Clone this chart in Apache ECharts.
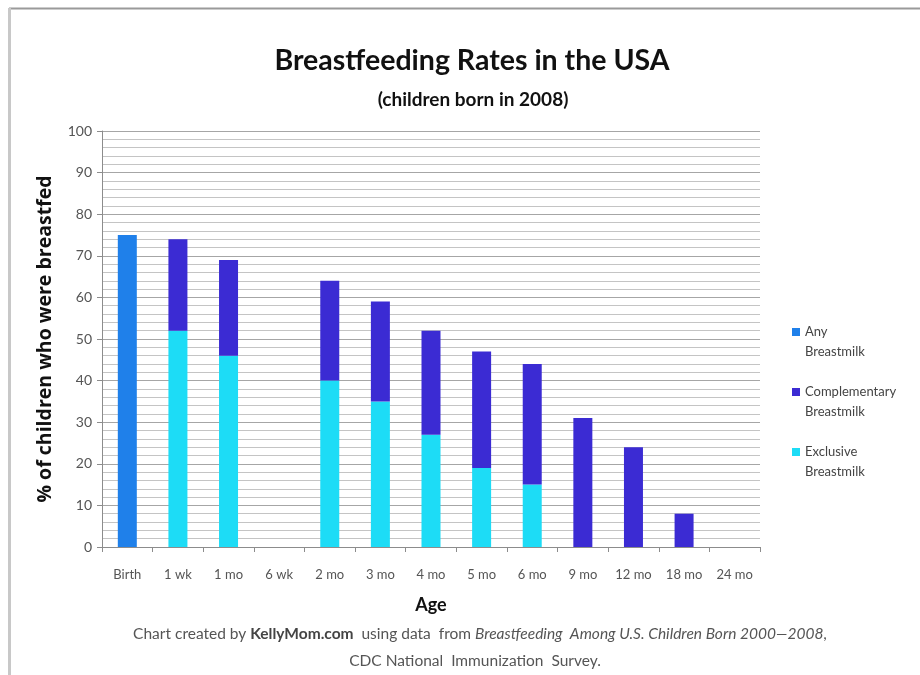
<!DOCTYPE html>
<html>
<head>
<meta charset="utf-8">
<title>Breastfeeding Rates in the USA</title>
<script src="https://cdn.jsdelivr.net/npm/echarts@6/dist/echarts.min.js"></script>
<style>
  html, body { margin: 0; padding: 0; background: #ffffff; }
  #chart { width: 920px; height: 675px; }
</style>
</head>
<body>
<div id="chart"></div>
<script>
// Age groups along the x axis
const ages = ['Birth', '1 wk', '1 mo', '6 wk', '2 mo', '3 mo', '4 mo', '5 mo', '6 mo', '9 mo', '12 mo', '18 mo', '24 mo'];

// Percent of children receiving any breastmilk (only reported at birth as a single bar)
const anyBreastmilk = [75, null, null, null, null, null, null, null, null, null, null, null, null];

// Percent receiving any breastmilk at each later age (top of the stacked bar)
const totalBreastfed = [null, 74, 69, null, 64, 59, 52, 47, 44, 31, 24, 8, null];

// Percent exclusively breastfed (lower part of the stacked bar)
const exclusiveBreastmilk = [null, 52, 46, null, 40, 35, 27, 19, 15, null, null, null, null];

// Complementary part = total minus exclusive
const complementaryBreastmilk = totalBreastfed.map((t, i) =>
  t == null ? null : t - (exclusiveBreastmilk[i] || 0));

const seriesNames = ['Any\nBreastmilk', 'Complementary\nBreastmilk', 'Exclusive\nBreastmilk'];
const colors = { any: '#1f80ea', comp: '#3b2bd3', excl: '#1ddcf6' };

const chart = echarts.init(document.getElementById('chart'), null, { renderer: 'canvas' });

const baseFont = 'Lato, "Open Sans", sans-serif';

chart.setOption({
  animation: false,
  backgroundColor: '#ffffff',
  textStyle: { fontFamily: baseFont },
  title: [
    {
      text: 'Breastfeeding Rates in the USA',
      left: 467, top: 41, textAlign: 'center',
      textStyle: { fontSize: 28.5, fontWeight: 'bold', color: '#111', fontFamily: baseFont }
    },
    {
      text: '(children born in 2008)',
      left: 468, top: 85, textAlign: 'center',
      textStyle: { fontSize: 19, fontWeight: 'bold', color: '#111', fontFamily: baseFont }
    },
    {
      text: '{n|Chart created by }{b|KellyMom.com}{n|  using data  from }{i|Breastfeeding  Among U.S. Children Born 2000\u20142008}{n|,}',
      left: 475, top: 621, textAlign: 'center',
      textStyle: {
        fontSize: 15.5, color: '#555', fontWeight: 'normal',
        rich: {
          n: { fontSize: 15.5, color: '#555', fontWeight: 'normal', fontFamily: baseFont },
          b: { fontSize: 15.5, color: '#444', fontWeight: 'bold', fontFamily: baseFont },
          i: { fontSize: 15.5, color: '#555', fontWeight: 'normal', fontStyle: 'italic', fontFamily: baseFont }
        }
      }
    },
    {
      text: 'CDC National  Immunization  Survey.',
      left: 470, top: 648, textAlign: 'center',
      textStyle: { fontSize: 15.5, color: '#555', fontWeight: 'normal', fontFamily: baseFont }
    }
  ],
  legend: {
    orient: 'vertical',
    left: 787, top: 297,
    itemWidth: 8, itemHeight: 8,
    itemGap: 0,
    icon: 'rect',
    data: seriesNames,
    // a blank first line keeps the swatch level with the first word
    formatter: name => '\n' + name,
    textStyle: { fontSize: 13, color: '#444', lineHeight: 20 }
  },
  grid: { left: 102, right: 160, top: 131, bottom: 128, containLabel: false },
  xAxis: {
    type: 'category',
    data: ages,
    name: 'Age',
    nameLocation: 'middle',
    nameGap: 49,
    nameTextStyle: { fontSize: 18, fontWeight: 'bold', color: '#111' },
    axisLine: { lineStyle: { color: '#8c8c8c', width: 1 } },
    axisTick: { show: true, alignWithLabel: false, length: 5, lineStyle: { color: '#8c8c8c' } },
    axisLabel: { fontSize: 13, color: '#555', margin: 21 },
    splitLine: { show: false }
  },
  yAxis: {
    type: 'value',
    min: 0, max: 100, interval: 10,
    name: '% of children who were breastfed',
    nameLocation: 'middle',
    nameGap: 47,
    nameRotate: 90,
    nameTextStyle: { fontSize: 19.5, fontWeight: 'bold', color: '#111', fontFamily: '"Open Sans", Lato, sans-serif' },
    axisLine: { show: true, lineStyle: { color: '#8c8c8c', width: 1 } },
    axisTick: { show: true, length: 5, lineStyle: { color: '#8c8c8c' } },
    axisLabel: { fontSize: 14, color: '#555', margin: 10 },
    splitLine: { show: true, lineStyle: { color: '#a6a6a6', width: 1 } },
    minorTick: { show: false, splitNumber: 5 },
    minorSplitLine: { show: true, lineStyle: { color: '#c4c4c4', width: 1 } }
  },
  series: [
    {
      name: seriesNames[2], type: 'bar', stack: 'rate', barWidth: 19,
      itemStyle: { color: colors.excl },
      data: exclusiveBreastmilk
    },
    {
      name: seriesNames[1], type: 'bar', stack: 'rate', barWidth: 19,
      itemStyle: { color: colors.comp },
      data: complementaryBreastmilk
    },
    {
      name: seriesNames[0], type: 'bar', stack: 'rate', barWidth: 19,
      itemStyle: { color: colors.any },
      data: anyBreastmilk
    }
  ],
  graphic: [
    // page frame: top rule and left edge
    { type: 'line', shape: { x1: 9, y1: 8.5, x2: 920, y2: 8.5 }, style: { stroke: '#9a9a9a', lineWidth: 2 }, silent: true },
    { type: 'line', shape: { x1: 9.5, y1: 8, x2: 9.5, y2: 675 }, style: { stroke: '#c8c8c8', lineWidth: 3 }, silent: true }
  ]
});
</script>
</body>
</html>
